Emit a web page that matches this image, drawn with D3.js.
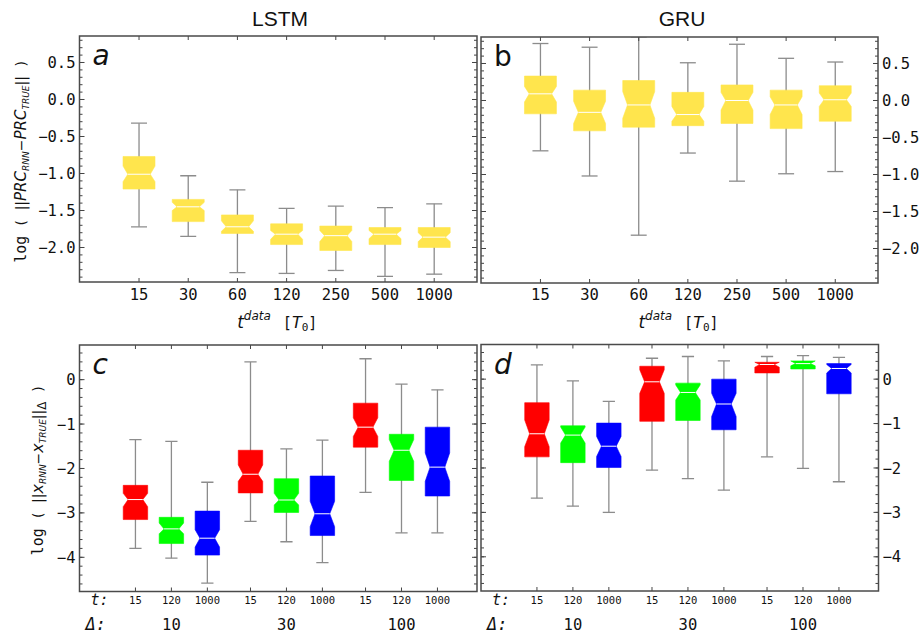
<!DOCTYPE html>
<html lang="en">
<head>
<meta charset="UTF-8">
<title>LSTM / GRU error boxplots</title>
<script src="https://d3js.org/d3.v7.min.js"></script>
<style>
  body { margin: 0; background: #fff; }
  svg text { fill: #111; }
</style>
</head>
<body>
<svg width="921" height="636"></svg>
<script>
// ---- top row: PRC error vs length of training data ----
const tData = ["15", "30", "60", "120", "250", "500", "1000"];
// each box: [whisker low, q1, median, q3, whisker high]
const lstmPrc = [
  [-1.72, -1.21, -1.01, -0.77, -0.32],
  [-1.85, -1.65, -1.45, -1.35, -1.03],
  [-2.34, -1.81, -1.72, -1.56, -1.22],
  [-2.35, -1.96, -1.82, -1.68, -1.47],
  [-2.31, -2.04, -1.84, -1.71, -1.44],
  [-2.39, -1.96, -1.82, -1.73, -1.46],
  [-2.36, -2.00, -1.86, -1.73, -1.41]
];
const lstmPrcNotch = [[-1.11, -0.90], [-1.50, -1.39], [-1.78, -1.64], [-1.89, -1.77], [-1.92, -1.77], [-1.88, -1.77], [-1.92, -1.80]];
const gruPrc = [
  [-0.68, -0.18, 0.09, 0.33, 0.77],
  [-1.02, -0.41, -0.16, 0.14, 0.72],
  [-1.82, -0.36, -0.06, 0.27, 0.86],
  [-0.71, -0.34, -0.19, 0.11, 0.51],
  [-1.09, -0.31, 0.00, 0.21, 0.76],
  [-0.99, -0.38, -0.06, 0.14, 0.57],
  [-0.96, -0.28, 0.01, 0.20, 0.52]
];
const gruPrcNotch = [[-0.02, 0.19], [-0.31, -0.01], [-0.24, 0.12], [-0.28, -0.08], [-0.13, 0.11], [-0.19, 0.05], [-0.08, 0.10]];
const prcTicks = [0.5, 0, -0.5, -1, -1.5, -2];

// ---- bottom row: trajectory error, grouped by Δ, coloured by t ----
const tShort = ["15", "120", "1000"];
const deltas = ["10", "30", "100"];
const tColors = ["#ff0000", "#00ff00", "#0000ff"];
const lstmTraj = [
  [-3.80, -3.15, -2.70, -2.38, -1.35],
  [-4.02, -3.69, -3.36, -3.10, -1.39],
  [-4.58, -3.95, -3.57, -2.96, -2.31],
  [-3.19, -2.55, -2.13, -1.59, 0.40],
  [-3.65, -2.99, -2.71, -2.23, -1.56],
  [-4.12, -3.51, -3.02, -2.17, -1.36],
  [-2.54, -1.52, -1.07, -0.53, 0.47],
  [-3.45, -2.27, -1.59, -1.23, -0.10],
  [-3.45, -2.62, -1.97, -1.07, -0.23]
];
const lstmTrajNotch = [[-2.86, -2.56], [-3.47, -3.23], [-3.77, -3.38], [-2.29, -1.92], [-2.82, -2.56], [-3.31, -2.74], [-1.28, -0.86], [-1.84, -1.35], [-2.29, -1.65]];
const gruTraj = [
  [-2.68, -1.75, -1.23, -0.53, 0.32],
  [-2.86, -1.88, -1.26, -1.05, -0.04],
  [-3.00, -1.99, -1.51, -0.99, -0.50],
  [-2.05, -0.95, -0.06, 0.29, 0.47],
  [-2.24, -0.93, -0.30, -0.09, 0.51],
  [-2.50, -1.14, -0.56, 0.00, 0.41],
  [-1.75, 0.14, 0.33, 0.38, 0.51],
  [-2.01, 0.23, 0.35, 0.41, 0.53],
  [-2.31, -0.33, 0.24, 0.35, 0.49]
];
const gruTrajNotch = [[-1.52, -0.92], [-1.44, -1.08], [-1.74, -1.29], [-0.32, 0.21], [-0.47, -0.13], [-0.84, -0.32], [0.27, 0.38], [0.30, 0.41], [0.14, 0.33]];
const trajTicks = [0, -1, -2, -3, -4];

const svg = d3.select("svg");
const MONO = "'DejaVu Sans Mono', monospace";
const SANS = "'DejaVu Sans', sans-serif";
const minus = s => s.replace("-", "\u2212");

// x positions: top row one slot per t, bottom row groups of 3 with a gap
const topPos = tData.map((d, i) => i);
const botPos = d3.range(9).map(i => Math.floor(i / 3) * 3.2 + (i % 3));
const yellow = "#ffe54d";

function drawPanel(c) {
  const x = d3.scaleLinear().domain(c.xDomain).range([c.left, c.right]);
  const y = d3.scaleLinear().domain(c.yDomain).range([c.bottom, c.top]);
  const g = svg.append("g");
  const clipId = "clip-" + c.letter;
  svg.append("clipPath").attr("id", clipId).append("rect")
    .attr("x", c.left).attr("y", c.top).attr("width", c.right - c.left).attr("height", c.bottom - c.top);
  const marks = g.append("g").attr("clip-path", `url(#${clipId})`);
  const bw = x(c.boxW) - x(0);

  c.stats.forEach((s, i) => {
    const cx = x(c.pos[i]);
    marks.append("line").attr("x1", cx).attr("x2", cx).attr("y1", y(s[0])).attr("y2", y(s[4]))
      .attr("stroke", "#8c8c8c").attr("stroke-width", 1.3);
    [s[0], s[4]].forEach(v => marks.append("line")
      .attr("x1", cx - bw / 4).attr("x2", cx + bw / 4).attr("y1", y(v)).attr("y2", y(v))
      .attr("stroke", "#8c8c8c").attr("stroke-width", 1.3));
    const l = cx - bw / 2, r = cx + bw / 2, ind = bw * c.indent;
    const [nlo, nhi] = c.notch[i];
    const pts = [[l, y(s[1])], [r, y(s[1])], [r, y(nlo)], [r - ind, y(s[2])], [r, y(nhi)],
      [r, y(s[3])], [l, y(s[3])], [l, y(nhi)], [l + ind, y(s[2])], [l, y(nlo)]];
    marks.append("polygon").attr("points", pts.map(p => p.join(",")).join(" "))
      .attr("fill", c.colors[i]).attr("stroke", c.colors[i]).attr("stroke-width", 0.6);
    marks.append("line").attr("x1", l + ind).attr("x2", r - ind).attr("y1", y(s[2])).attr("y2", y(s[2]))
      .attr("stroke", "#fff").attr("stroke-width", 1);
  });

  // inward ticks on all four sides
  const tk = g.append("g").attr("stroke", "#444").attr("stroke-width", 1);
  const minor = d3.range(Math.ceil(c.yDomain[0] / c.minorStep), Math.floor(c.yDomain[1] / c.minorStep) + 1)
    .map(k => k * c.minorStep);
  minor.forEach(v => {
    tk.append("line").attr("x1", c.left).attr("x2", c.left + 3).attr("y1", y(v)).attr("y2", y(v));
    tk.append("line").attr("x1", c.right).attr("x2", c.right - 3).attr("y1", y(v)).attr("y2", y(v));
  });
  c.yTicks.forEach(v => {
    tk.append("line").attr("x1", c.left).attr("x2", c.left + 5).attr("y1", y(v)).attr("y2", y(v));
    tk.append("line").attr("x1", c.right).attr("x2", c.right - 5).attr("y1", y(v)).attr("y2", y(v));
  });
  c.pos.forEach(p => {
    tk.append("line").attr("x1", x(p)).attr("x2", x(p)).attr("y1", c.bottom).attr("y2", c.bottom - 4);
    tk.append("line").attr("x1", x(p)).attr("x2", x(p)).attr("y1", c.top).attr("y2", c.top + 4);
  });

  g.append("rect").attr("x", c.left).attr("y", c.top)
    .attr("width", c.right - c.left).attr("height", c.bottom - c.top)
    .attr("fill", "none").attr("stroke", "#4a4a4a").attr("stroke-width", 1.5);

  // y tick labels
  const onLeft = c.labelSide === "left";
  g.selectAll(null).data(c.yTicks).join("text")
    .attr("x", onLeft ? c.left - 4 : c.right + 4)
    .attr("y", d => y(d)).attr("dy", "0.36em")
    .attr("text-anchor", onLeft ? "end" : "start")
    .style("font-family", MONO).style("font-size", "15.5px")
    .text(d => minus(c.tickFmt(d)));

  // panel letter
  g.append("text").attr("x", c.left + 13).attr("y", c.top + 29)
    .style("font-family", SANS).style("font-size", "28px")
    .style("font-style", c.letterItalic ? "italic" : "normal")
    .text(c.letter);

  return { x, y, g };
}

// ---- panel a / b ----
const topCfg = {
  xDomain: [-1.21, 6.87], yDomain: [-2.466, 0.858], pos: topPos, boxW: 0.65, indent: 0.15,
  yTicks: prcTicks, minorStep: 0.1, tickFmt: d3.format(".1f"), colors: tData.map(() => yellow)
};
const pa = drawPanel(Object.assign({}, topCfg, {
  left: 79.5, right: 477, top: 36, bottom: 282, stats: lstmPrc, notch: lstmPrcNotch,
  labelSide: "left", letter: "a", letterItalic: true
}));
const pb = drawPanel(Object.assign({}, topCfg, {
  left: 481, right: 878, top: 37, bottom: 283, stats: gruPrc, notch: gruPrcNotch,
  labelSide: "right", letter: "b", letterItalic: false
}));

[pa, pb].forEach(p => {
  p.g.selectAll(null).data(tData).join("text")
    .attr("x", (d, i) => p.x(topPos[i])).attr("y", 300)
    .attr("text-anchor", "middle")
    .style("font-family", MONO).style("font-size", "15.5px")
    .text(d => d);
  const cx = (p.x.range()[0] + p.x.range()[1]) / 2 - 1;
  const lab = p.g.append("text").attr("x", cx).attr("y", 328).attr("text-anchor", "middle");
  lab.append("tspan").style("font-family", SANS).style("font-style", "italic").style("font-size", "17px").text("t");
  lab.append("tspan").style("font-family", SANS).style("font-style", "italic").style("font-size", "12px")
    .attr("dy", -8).text("data");
  lab.append("tspan").style("font-family", MONO).style("font-size", "15px").attr("dy", 8).attr("dx", 12).text("[");
  lab.append("tspan").style("font-family", SANS).style("font-style", "italic").style("font-size", "16px").text("T");
  lab.append("tspan").style("font-family", MONO).style("font-size", "11px").attr("dy", 3).text("0");
  lab.append("tspan").style("font-family", MONO).style("font-size", "15px").attr("dy", -3).text("]");
});

// ---- panel c / d ----
const botCfg = {
  xDomain: [-1.556, 9.5], yDomain: [-4.77, 0.78], pos: botPos, boxW: 0.68, indent: 0.2,
  yTicks: trajTicks, minorStep: 0.2, tickFmt: d3.format("d"),
  colors: botPos.map((p, i) => tColors[i % 3])
};
const pc = drawPanel(Object.assign({}, botCfg, {
  left: 79.5, right: 477, top: 345, bottom: 591.5, stats: lstmTraj, notch: lstmTrajNotch,
  labelSide: "left", letter: "c", letterItalic: true
}));
const pd = drawPanel(Object.assign({}, botCfg, {
  left: 481, right: 878.5, top: 344.5, bottom: 591, stats: gruTraj, notch: gruTrajNotch,
  labelSide: "right", letter: "d", letterItalic: true
}));

[pc, pd].forEach((p, k) => {
  p.g.selectAll(null).data(botPos).join("text")
    .attr("x", d => p.x(d)).attr("y", 604).attr("text-anchor", "middle")
    .style("font-family", MONO).style("font-size", "10.5px")
    .text((d, i) => tShort[i % 3]);
  p.g.selectAll(null).data(deltas).join("text")
    .attr("x", (d, gi) => p.x(gi * 3.2 + 1)).attr("y", 630).attr("text-anchor", "middle")
    .style("font-family", MONO).style("font-size", "15.5px")
    .text(d => d);
  const x0 = p.x.range()[0];
  p.g.append("text").attr("x", x0 + 11).attr("y", 605)
    .style("font-family", MONO).style("font-style", "italic").style("font-size", "15px").text("t:");
  p.g.append("text").attr("x", x0 + 6).attr("y", 630)
    .style("font-family", MONO).style("font-style", "italic").style("font-size", "17px").text("\u0394:");
});

// ---- titles ----
svg.append("text").attr("x", 280).attr("y", 26).attr("text-anchor", "middle")
  .style("font-family", "'Liberation Sans', Arial, sans-serif").style("font-size", "21px").text("LSTM");
svg.append("text").attr("x", 682).attr("y", 26).attr("text-anchor", "middle")
  .style("font-family", "'Liberation Sans', Arial, sans-serif").style("font-size", "21px").text("GRU");

// ---- y labels ----
function yLabel(bx, cy, parts) {
  const t = svg.append("text").attr("transform", `translate(${bx},${cy}) rotate(-90)`)
    .attr("text-anchor", "middle");
  parts.forEach(p => {
    const s = t.append("tspan").style("font-family", p.mono ? MONO : SANS)
      .style("font-size", p.size + "px").text(p.text);
    if (p.italic) s.style("font-style", "italic");
    if (p.dy) s.attr("dy", p.dy);
  });
}
yLabel(26, 161, [
  { text: "log", mono: true, size: 15 },
  { text: " (\u2009", mono: true, size: 14 },
  { text: "||", size: 14 },
  { text: "PRC", italic: true, size: 15 },
  { text: "RNN", italic: true, size: 9, dy: 3 },
  { text: "\u2212", size: 14, dy: -3 },
  { text: "PRC", italic: true, size: 15 },
  { text: "TRUE", italic: true, size: 9, dy: 3 },
  { text: "||", size: 14, dy: -3 },
  { text: "\u2009)", mono: true, size: 14 }
]);
yLabel(43, 470, [
  { text: "log", mono: true, size: 15 },
  { text: " (\u2009", mono: true, size: 14 },
  { text: "||", size: 14 },
  { text: "x", italic: true, size: 16 },
  { text: "RNN", italic: true, size: 9, dy: 3 },
  { text: "\u2212", size: 14, dy: -3 },
  { text: "x", italic: true, size: 16 },
  { text: "TRUE", italic: true, size: 9, dy: 3 },
  { text: "||", size: 14, dy: -3 },
  { text: "\u0394", size: 12, dy: 3 },
  { text: "\u2009)", mono: true, size: 14, dy: -3 }
]);
</script>
</body>
</html>
